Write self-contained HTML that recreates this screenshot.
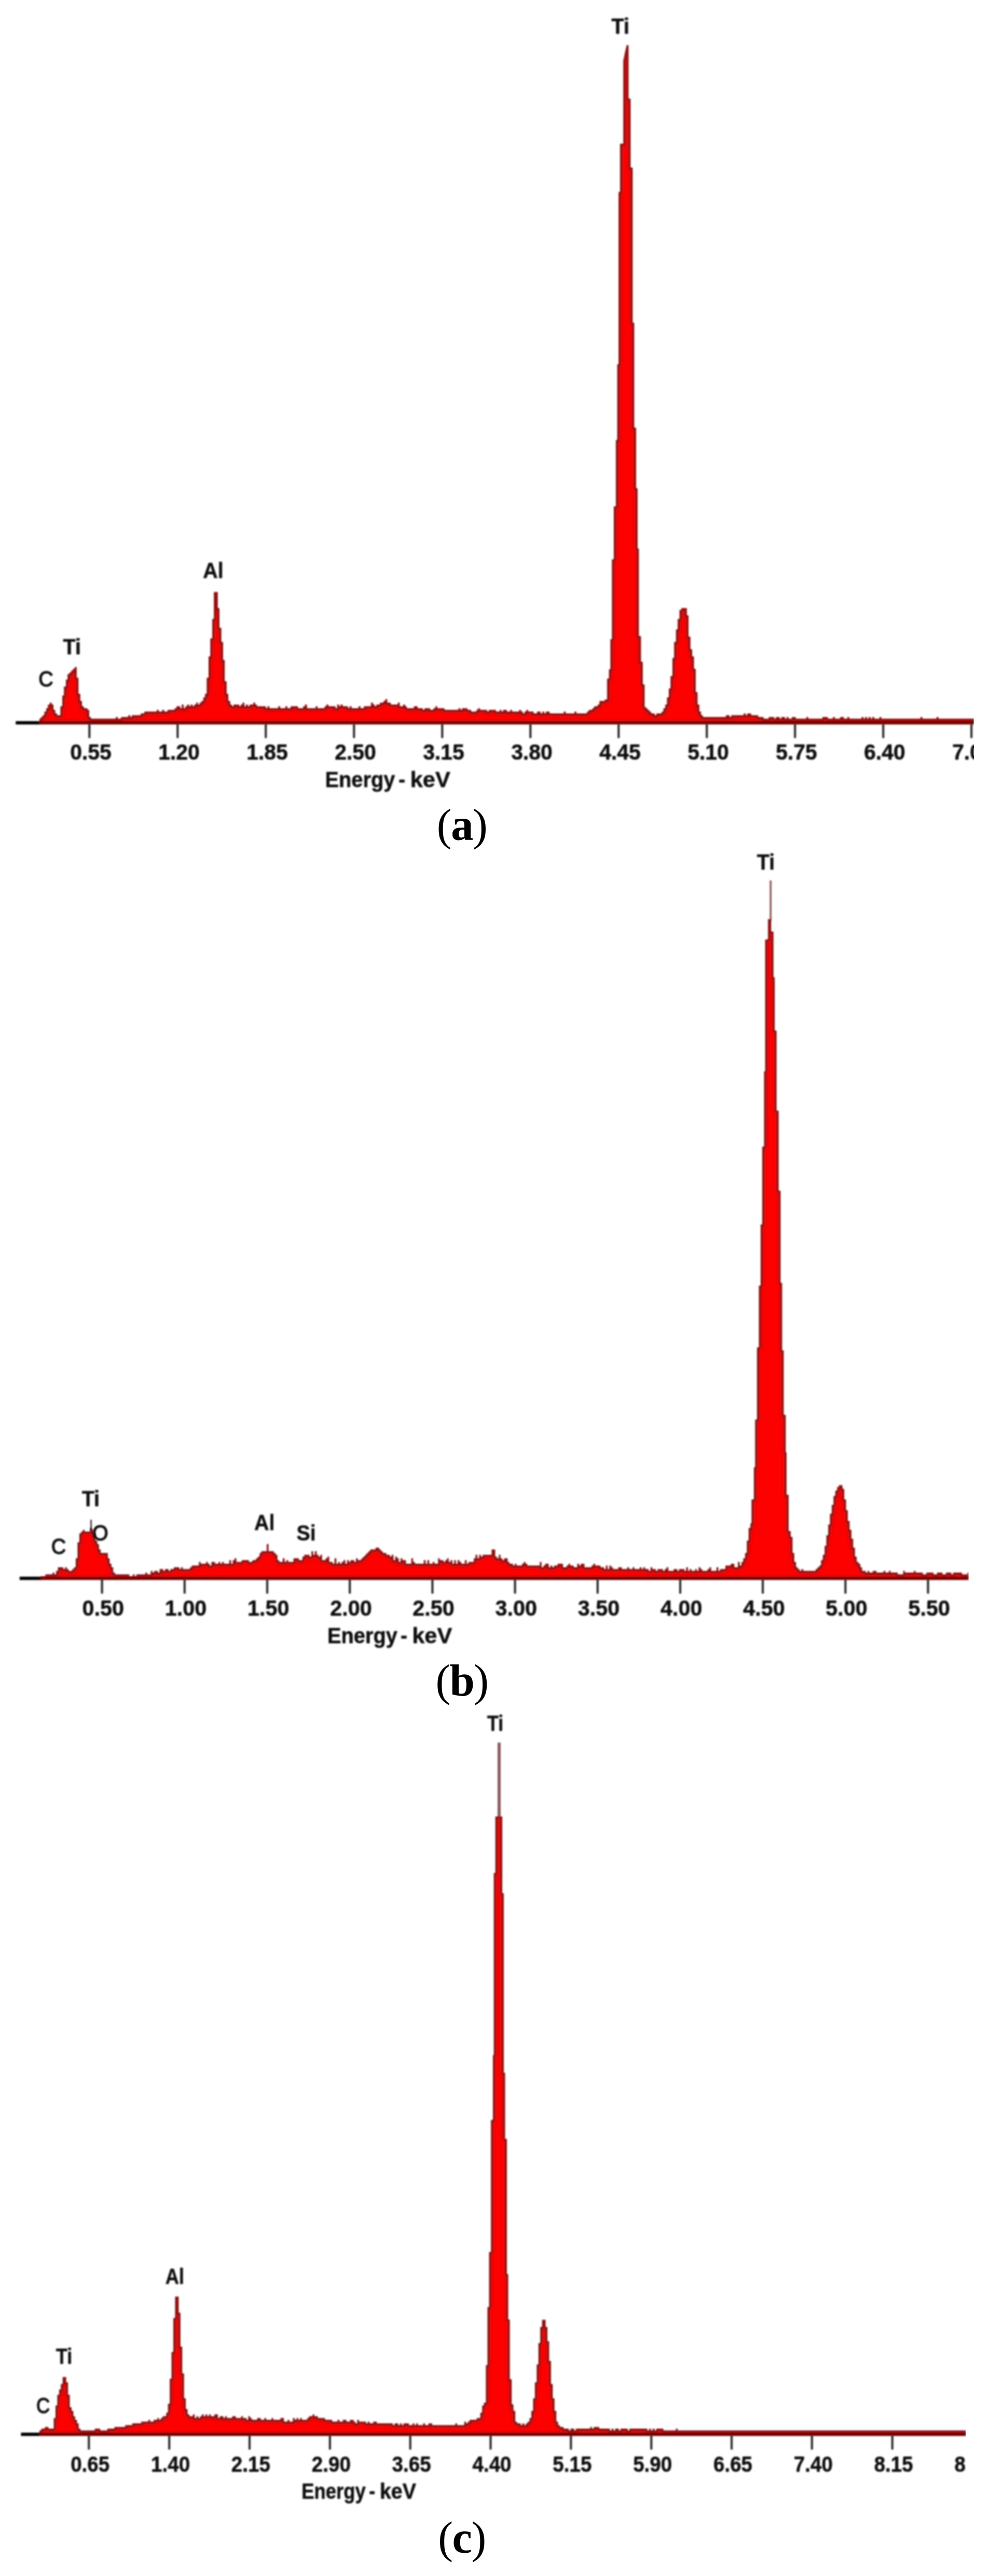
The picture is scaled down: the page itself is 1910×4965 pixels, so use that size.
<!DOCTYPE html>
<html><head><meta charset="utf-8"><title>EDS spectra</title>
<style>html,body{margin:0;padding:0;background:#fff}body{width:1910px;height:4965px;overflow:hidden;font-family:"Liberation Sans",sans-serif}svg{display:block}</style></head>
<body>
<svg width="1910" height="4965" viewBox="0 0 1910 4965">
<defs><filter id="bl" x="0" y="0" width="1910" height="4965" filterUnits="userSpaceOnUse"><feGaussianBlur stdDeviation="1.8"/></filter><filter id="bt" x="0" y="0" width="1910" height="4965" filterUnits="userSpaceOnUse"><feGaussianBlur stdDeviation="1.4"/></filter></defs>
<clipPath id="c1x"><rect x="0" y="-7" width="1877.0" height="1700"/></clipPath>
<defs><path id="c1d" d="M76.0 1394.5 L76.0 1389.0 L76.0 1385.6 L78.8 1385.6 L78.8 1382.1 L82.3 1382.1 L82.3 1378.7 L85.7 1378.7 L85.7 1371.8 L89.1 1371.8 L89.1 1364.9 L92.6 1364.9 L92.6 1358.0 L96.0 1358.0 L96.0 1354.6 L99.5 1354.6 L99.5 1358.0 L102.9 1358.0 L102.9 1368.4 L106.3 1368.4 L106.3 1375.2 L109.8 1375.2 L109.8 1378.7 L113.2 1378.7 L113.2 1378.7 L116.7 1378.7 L116.7 1361.5 L120.1 1361.5 L120.1 1340.8 L123.5 1340.8 L123.5 1323.6 L127.0 1323.6 L127.0 1309.9 L130.4 1309.9 L130.4 1299.6 L133.9 1299.6 L133.9 1296.1 L137.3 1296.1 L137.3 1292.7 L140.7 1292.7 L140.7 1289.2 L144.2 1289.2 L144.2 1285.8 L147.6 1285.8 L147.6 1306.4 L151.1 1306.4 L151.1 1337.4 L154.5 1337.4 L154.5 1351.2 L157.9 1351.2 L157.9 1361.5 L161.4 1361.5 L161.4 1364.9 L164.8 1364.9 L164.8 1364.9 L168.3 1364.9 L168.3 1368.4 L171.7 1368.4 L171.7 1382.1 L175.1 1382.1 L175.1 1385.6 L178.6 1385.6 L178.6 1385.6 L182.0 1385.6 L182.0 1385.6 L185.5 1385.6 L185.5 1385.6 L188.9 1385.6 L188.9 1385.6 L192.3 1385.6 L192.3 1385.6 L195.8 1385.6 L195.8 1385.6 L199.2 1385.6 L199.2 1385.6 L202.7 1385.6 L202.7 1385.6 L206.1 1385.6 L206.1 1385.6 L209.5 1385.6 L209.5 1385.6 L213.0 1385.6 L213.0 1385.6 L216.4 1385.6 L216.4 1385.6 L219.9 1385.6 L219.9 1385.6 L223.3 1385.6 L223.3 1382.1 L226.7 1382.1 L226.7 1385.6 L230.2 1385.6 L230.2 1385.6 L233.6 1385.6 L233.6 1382.1 L237.1 1382.1 L237.1 1382.1 L240.5 1382.1 L240.5 1382.1 L243.9 1382.1 L243.9 1382.1 L247.4 1382.1 L247.4 1378.7 L250.8 1378.7 L250.8 1382.1 L254.3 1382.1 L254.3 1378.7 L257.7 1378.7 L257.7 1378.7 L261.1 1378.7 L261.1 1378.7 L264.6 1378.7 L264.6 1378.7 L268.0 1378.7 L268.0 1378.7 L271.5 1378.7 L271.5 1375.2 L274.9 1375.2 L274.9 1375.2 L278.3 1375.2 L278.3 1371.8 L281.8 1371.8 L281.8 1371.8 L285.2 1371.8 L285.2 1371.8 L288.7 1371.8 L288.7 1371.8 L292.1 1371.8 L292.1 1371.8 L295.5 1371.8 L295.5 1371.8 L299.0 1371.8 L299.0 1371.8 L302.4 1371.8 L302.4 1368.4 L305.9 1368.4 L305.9 1371.8 L309.3 1371.8 L309.3 1371.8 L312.7 1371.8 L312.7 1368.4 L316.2 1368.4 L316.2 1371.8 L319.6 1371.8 L319.6 1371.8 L323.1 1371.8 L323.1 1368.4 L326.5 1368.4 L326.5 1368.4 L329.9 1368.4 L329.9 1368.4 L333.4 1368.4 L333.4 1368.4 L336.8 1368.4 L336.8 1364.9 L340.3 1364.9 L340.3 1361.5 L343.7 1361.5 L343.7 1361.5 L347.1 1361.5 L347.1 1364.9 L350.6 1364.9 L350.6 1358.0 L354.0 1358.0 L354.0 1364.9 L357.5 1364.9 L357.5 1361.5 L360.9 1361.5 L360.9 1358.0 L364.3 1358.0 L364.3 1361.5 L367.8 1361.5 L367.8 1358.0 L371.2 1358.0 L371.2 1361.5 L374.7 1361.5 L374.7 1358.0 L378.1 1358.0 L378.1 1354.6 L381.5 1354.6 L381.5 1358.0 L385.0 1358.0 L385.0 1354.6 L388.4 1354.6 L388.4 1351.2 L391.9 1351.2 L391.9 1344.3 L395.3 1344.3 L395.3 1337.4 L398.7 1337.4 L398.7 1306.4 L402.2 1306.4 L402.2 1265.2 L405.6 1265.2 L405.6 1230.8 L409.1 1230.8 L409.1 1192.9 L412.5 1192.9 L412.5 1141.3 L415.9 1141.3 L415.9 1141.3 L419.4 1141.3 L419.4 1172.3 L422.8 1172.3 L422.8 1210.1 L426.3 1210.1 L426.3 1237.6 L429.7 1237.6 L429.7 1272.0 L433.1 1272.0 L433.1 1313.3 L436.6 1313.3 L436.6 1337.4 L440.0 1337.4 L440.0 1351.2 L443.5 1351.2 L443.5 1358.0 L446.9 1358.0 L446.9 1361.5 L450.3 1361.5 L450.3 1358.0 L453.8 1358.0 L453.8 1358.0 L457.2 1358.0 L457.2 1358.0 L460.7 1358.0 L460.7 1361.5 L464.1 1361.5 L464.1 1358.0 L467.5 1358.0 L467.5 1354.6 L471.0 1354.6 L471.0 1361.5 L474.4 1361.5 L474.4 1358.0 L477.9 1358.0 L477.9 1361.5 L481.3 1361.5 L481.3 1358.0 L484.7 1358.0 L484.7 1358.0 L488.2 1358.0 L488.2 1354.6 L491.6 1354.6 L491.6 1358.0 L495.1 1358.0 L495.1 1361.5 L498.5 1361.5 L498.5 1361.5 L501.9 1361.5 L501.9 1361.5 L505.4 1361.5 L505.4 1361.5 L508.8 1361.5 L508.8 1361.5 L512.3 1361.5 L512.3 1364.9 L515.7 1364.9 L515.7 1361.5 L519.1 1361.5 L519.1 1364.9 L522.6 1364.9 L522.6 1364.9 L526.0 1364.9 L526.0 1364.9 L529.5 1364.9 L529.5 1364.9 L532.9 1364.9 L532.9 1364.9 L536.3 1364.9 L536.3 1361.5 L539.8 1361.5 L539.8 1364.9 L543.2 1364.9 L543.2 1364.9 L546.7 1364.9 L546.7 1364.9 L550.1 1364.9 L550.1 1361.5 L553.5 1361.5 L553.5 1364.9 L557.0 1364.9 L557.0 1364.9 L560.4 1364.9 L560.4 1361.5 L563.9 1361.5 L563.9 1361.5 L567.3 1361.5 L567.3 1361.5 L570.7 1361.5 L570.7 1361.5 L574.2 1361.5 L574.2 1364.9 L577.6 1364.9 L577.6 1364.9 L581.1 1364.9 L581.1 1364.9 L584.5 1364.9 L584.5 1361.5 L587.9 1361.5 L587.9 1358.0 L591.4 1358.0 L591.4 1364.9 L594.8 1364.9 L594.8 1364.9 L598.3 1364.9 L598.3 1364.9 L601.7 1364.9 L601.7 1364.9 L605.1 1364.9 L605.1 1364.9 L608.6 1364.9 L608.6 1361.5 L612.0 1361.5 L612.0 1364.9 L615.5 1364.9 L615.5 1364.9 L618.9 1364.9 L618.9 1364.9 L622.3 1364.9 L622.3 1364.9 L625.8 1364.9 L625.8 1361.5 L629.2 1361.5 L629.2 1358.0 L632.7 1358.0 L632.7 1361.5 L636.1 1361.5 L636.1 1361.5 L639.5 1361.5 L639.5 1361.5 L643.0 1361.5 L643.0 1361.5 L646.4 1361.5 L646.4 1364.9 L649.9 1364.9 L649.9 1358.0 L653.3 1358.0 L653.3 1361.5 L656.7 1361.5 L656.7 1358.0 L660.2 1358.0 L660.2 1361.5 L663.6 1361.5 L663.6 1361.5 L667.1 1361.5 L667.1 1361.5 L670.5 1361.5 L670.5 1364.9 L673.9 1364.9 L673.9 1361.5 L677.4 1361.5 L677.4 1364.9 L680.8 1364.9 L680.8 1364.9 L684.3 1364.9 L684.3 1364.9 L687.7 1364.9 L687.7 1364.9 L691.1 1364.9 L691.1 1361.5 L694.6 1361.5 L694.6 1364.9 L698.0 1364.9 L698.0 1364.9 L701.5 1364.9 L701.5 1361.5 L704.9 1361.5 L704.9 1361.5 L708.3 1361.5 L708.3 1361.5 L711.8 1361.5 L711.8 1361.5 L715.2 1361.5 L715.2 1354.6 L718.7 1354.6 L718.7 1358.0 L722.1 1358.0 L722.1 1361.5 L725.5 1361.5 L725.5 1358.0 L729.0 1358.0 L729.0 1358.0 L732.4 1358.0 L732.4 1354.6 L735.9 1354.6 L735.9 1354.6 L739.3 1354.6 L739.3 1351.2 L742.7 1351.2 L742.7 1347.7 L746.2 1347.7 L746.2 1354.6 L749.6 1354.6 L749.6 1354.6 L753.1 1354.6 L753.1 1358.0 L756.5 1358.0 L756.5 1358.0 L759.9 1358.0 L759.9 1358.0 L763.4 1358.0 L763.4 1358.0 L766.8 1358.0 L766.8 1354.6 L770.3 1354.6 L770.3 1361.5 L773.7 1361.5 L773.7 1361.5 L777.1 1361.5 L777.1 1358.0 L780.6 1358.0 L780.6 1361.5 L784.0 1361.5 L784.0 1364.9 L787.5 1364.9 L787.5 1364.9 L790.9 1364.9 L790.9 1364.9 L794.3 1364.9 L794.3 1364.9 L797.8 1364.9 L797.8 1361.5 L801.2 1361.5 L801.2 1361.5 L804.7 1361.5 L804.7 1364.9 L808.1 1364.9 L808.1 1364.9 L811.5 1364.9 L811.5 1364.9 L815.0 1364.9 L815.0 1368.4 L818.4 1368.4 L818.4 1364.9 L821.9 1364.9 L821.9 1364.9 L825.3 1364.9 L825.3 1364.9 L828.7 1364.9 L828.7 1368.4 L832.2 1368.4 L832.2 1368.4 L835.6 1368.4 L835.6 1364.9 L839.1 1364.9 L839.1 1361.5 L842.5 1361.5 L842.5 1364.9 L845.9 1364.9 L845.9 1364.9 L849.4 1364.9 L849.4 1364.9 L852.8 1364.9 L852.8 1364.9 L856.3 1364.9 L856.3 1368.4 L859.7 1368.4 L859.7 1368.4 L863.1 1368.4 L863.1 1368.4 L866.6 1368.4 L866.6 1368.4 L870.0 1368.4 L870.0 1368.4 L873.5 1368.4 L873.5 1368.4 L876.9 1368.4 L876.9 1368.4 L880.3 1368.4 L880.3 1368.4 L883.8 1368.4 L883.8 1364.9 L887.2 1364.9 L887.2 1368.4 L890.7 1368.4 L890.7 1364.9 L894.1 1364.9 L894.1 1364.9 L897.5 1364.9 L897.5 1364.9 L901.0 1364.9 L901.0 1368.4 L904.4 1368.4 L904.4 1368.4 L907.9 1368.4 L907.9 1371.8 L911.3 1371.8 L911.3 1371.8 L914.7 1371.8 L914.7 1371.8 L918.2 1371.8 L918.2 1368.4 L921.6 1368.4 L921.6 1364.9 L925.1 1364.9 L925.1 1368.4 L928.5 1368.4 L928.5 1368.4 L931.9 1368.4 L931.9 1368.4 L935.4 1368.4 L935.4 1368.4 L938.8 1368.4 L938.8 1371.8 L942.3 1371.8 L942.3 1368.4 L945.7 1368.4 L945.7 1368.4 L949.1 1368.4 L949.1 1368.4 L952.6 1368.4 L952.6 1368.4 L956.0 1368.4 L956.0 1371.8 L959.5 1371.8 L959.5 1371.8 L962.9 1371.8 L962.9 1368.4 L966.3 1368.4 L966.3 1371.8 L969.8 1371.8 L969.8 1368.4 L973.2 1368.4 L973.2 1368.4 L976.7 1368.4 L976.7 1371.8 L980.1 1371.8 L980.1 1371.8 L983.5 1371.8 L983.5 1368.4 L987.0 1368.4 L987.0 1371.8 L990.4 1371.8 L990.4 1371.8 L993.9 1371.8 L993.9 1371.8 L997.3 1371.8 L997.3 1371.8 L1000.7 1371.8 L1000.7 1368.4 L1004.2 1368.4 L1004.2 1371.8 L1007.6 1371.8 L1007.6 1375.2 L1011.1 1375.2 L1011.1 1371.8 L1014.5 1371.8 L1014.5 1368.4 L1017.9 1368.4 L1017.9 1371.8 L1021.4 1371.8 L1021.4 1371.8 L1024.8 1371.8 L1024.8 1371.8 L1028.3 1371.8 L1028.3 1375.2 L1031.7 1375.2 L1031.7 1375.2 L1035.1 1375.2 L1035.1 1371.8 L1038.6 1371.8 L1038.6 1371.8 L1042.0 1371.8 L1042.0 1375.2 L1045.5 1375.2 L1045.5 1371.8 L1048.9 1371.8 L1048.9 1375.2 L1052.3 1375.2 L1052.3 1371.8 L1055.8 1371.8 L1055.8 1371.8 L1059.2 1371.8 L1059.2 1375.2 L1062.7 1375.2 L1062.7 1375.2 L1066.1 1375.2 L1066.1 1375.2 L1069.5 1375.2 L1069.5 1375.2 L1073.0 1375.2 L1073.0 1375.2 L1076.4 1375.2 L1076.4 1375.2 L1079.9 1375.2 L1079.9 1375.2 L1083.3 1375.2 L1083.3 1375.2 L1086.7 1375.2 L1086.7 1371.8 L1090.2 1371.8 L1090.2 1375.2 L1093.6 1375.2 L1093.6 1375.2 L1097.1 1375.2 L1097.1 1375.2 L1100.5 1375.2 L1100.5 1375.2 L1103.9 1375.2 L1103.9 1375.2 L1107.4 1375.2 L1107.4 1371.8 L1110.8 1371.8 L1110.8 1375.2 L1114.3 1375.2 L1114.3 1375.2 L1117.7 1375.2 L1117.7 1375.2 L1121.1 1375.2 L1121.1 1375.2 L1124.6 1375.2 L1124.6 1375.2 L1128.0 1375.2 L1128.0 1375.2 L1131.5 1375.2 L1131.5 1371.8 L1134.9 1371.8 L1134.9 1368.4 L1138.3 1368.4 L1138.3 1368.4 L1141.8 1368.4 L1141.8 1364.9 L1145.2 1364.9 L1145.2 1361.5 L1148.7 1361.5 L1148.7 1361.5 L1152.1 1361.5 L1152.1 1358.0 L1155.5 1358.0 L1155.5 1351.2 L1159.0 1351.2 L1159.0 1351.2 L1162.4 1351.2 L1162.4 1351.2 L1165.9 1351.2 L1165.9 1347.7 L1167.0 1347.7 L1167.0 1348.5 L1170.3 1348.5 L1170.3 1308.0 L1173.8 1308.0 L1173.8 1290.0 L1176.7 1290.0 L1176.7 1232.0 L1179.6 1232.0 L1179.6 1078.0 L1183.0 1078.0 L1183.0 976.0 L1187.0 976.0 L1187.0 848.0 L1189.8 848.0 L1189.8 702.0 L1192.5 702.0 L1192.5 370.0 L1195.0 370.0 L1195.0 277.0 L1201.5 277.0 L1201.5 117.0 L1205.0 100.0 L1208.0 87.0 L1211.2 87.0 L1211.2 87.0 L1211.2 190.0 L1215.2 190.0 L1215.2 323.0 L1219.2 323.0 L1219.2 622.0 L1222.2 622.0 L1222.2 824.6 L1225.8 824.6 L1225.8 941.0 L1228.7 941.0 L1228.7 1057.5 L1231.2 1057.5 L1231.2 1226.0 L1235.2 1226.0 L1235.2 1275.7 L1238.6 1275.7 L1238.6 1319.0 L1242.2 1319.0 L1242.2 1363.0 L1244.0 1363.0 L1244.0 1361.5 L1244.4 1361.5 L1244.4 1364.9 L1247.9 1364.9 L1247.9 1368.4 L1251.3 1368.4 L1251.3 1371.8 L1254.8 1371.8 L1254.8 1375.2 L1258.2 1375.2 L1258.2 1375.2 L1261.6 1375.2 L1261.6 1378.7 L1265.1 1378.7 L1265.1 1375.2 L1268.5 1375.2 L1268.5 1375.2 L1272.0 1375.2 L1272.0 1375.2 L1275.4 1375.2 L1275.4 1371.8 L1278.8 1371.8 L1278.8 1364.9 L1282.3 1364.9 L1282.3 1358.0 L1285.7 1358.0 L1285.7 1344.3 L1289.2 1344.3 L1289.2 1327.1 L1292.6 1327.1 L1292.6 1303.0 L1296.0 1303.0 L1296.0 1268.6 L1299.5 1268.6 L1299.5 1237.6 L1302.9 1237.6 L1302.9 1213.6 L1306.4 1213.6 L1306.4 1192.9 L1309.8 1192.9 L1309.8 1175.7 L1313.2 1175.7 L1313.2 1172.3 L1316.7 1172.3 L1316.7 1172.3 L1320.1 1172.3 L1320.1 1172.3 L1323.6 1172.3 L1323.6 1186.0 L1327.0 1186.0 L1327.0 1227.3 L1330.4 1227.3 L1330.4 1251.4 L1333.9 1251.4 L1333.9 1265.2 L1337.3 1265.2 L1337.3 1289.2 L1340.8 1289.2 L1340.8 1334.0 L1344.2 1334.0 L1344.2 1358.0 L1347.6 1358.0 L1347.6 1371.8 L1351.1 1371.8 L1351.1 1378.7 L1354.5 1378.7 L1354.5 1382.1 L1358.0 1382.1 L1358.0 1382.1 L1361.4 1382.1 L1361.4 1382.1 L1364.8 1382.1 L1364.8 1382.1 L1368.3 1382.1 L1368.3 1382.1 L1371.7 1382.1 L1371.7 1382.1 L1375.2 1382.1 L1375.2 1382.1 L1378.6 1382.1 L1378.6 1382.1 L1382.0 1382.1 L1382.0 1382.1 L1385.5 1382.1 L1385.5 1382.1 L1388.9 1382.1 L1388.9 1382.1 L1392.4 1382.1 L1392.4 1382.1 L1395.8 1382.1 L1395.8 1382.1 L1399.2 1382.1 L1399.2 1378.7 L1402.7 1378.7 L1402.7 1378.7 L1406.1 1378.7 L1406.1 1382.1 L1409.6 1382.1 L1409.6 1378.7 L1413.0 1378.7 L1413.0 1378.7 L1416.4 1378.7 L1416.4 1378.7 L1419.9 1378.7 L1419.9 1378.7 L1423.3 1378.7 L1423.3 1378.7 L1426.8 1378.7 L1426.8 1378.7 L1430.2 1378.7 L1430.2 1378.7 L1433.6 1378.7 L1433.6 1375.2 L1437.1 1375.2 L1437.1 1378.7 L1440.5 1378.7 L1440.5 1375.2 L1444.0 1375.2 L1444.0 1375.2 L1447.4 1375.2 L1447.4 1378.7 L1450.8 1378.7 L1450.8 1378.7 L1454.3 1378.7 L1454.3 1378.7 L1457.7 1378.7 L1457.7 1378.7 L1461.2 1378.7 L1461.2 1382.1 L1464.6 1382.1 L1464.6 1382.1 L1468.0 1382.1 L1468.0 1382.1 L1471.5 1382.1 L1471.5 1385.6 L1474.9 1385.6 L1474.9 1385.6 L1478.4 1385.6 L1478.4 1385.6 L1481.8 1385.6 L1481.8 1382.1 L1485.2 1382.1 L1485.2 1382.1 L1488.7 1382.1 L1488.7 1382.1 L1492.1 1382.1 L1492.1 1385.6 L1495.6 1385.6 L1495.6 1382.1 L1499.0 1382.1 L1499.0 1382.1 L1502.4 1382.1 L1502.4 1385.6 L1505.9 1385.6 L1505.9 1382.1 L1509.3 1382.1 L1509.3 1382.1 L1512.8 1382.1 L1512.8 1385.6 L1516.2 1385.6 L1516.2 1382.1 L1519.6 1382.1 L1519.6 1385.6 L1523.1 1385.6 L1523.1 1385.6 L1526.5 1385.6 L1526.5 1382.1 L1530.0 1382.1 L1530.0 1382.1 L1533.4 1382.1 L1533.4 1385.6 L1536.8 1385.6 L1536.8 1385.6 L1540.3 1385.6 L1540.3 1385.6 L1543.7 1385.6 L1543.7 1385.6 L1547.2 1385.6 L1547.2 1385.6 L1550.6 1385.6 L1550.6 1385.6 L1554.0 1385.6 L1554.0 1382.1 L1557.5 1382.1 L1557.5 1385.6 L1560.9 1385.6 L1560.9 1385.6 L1564.4 1385.6 L1564.4 1385.6 L1567.8 1385.6 L1567.8 1385.6 L1571.2 1385.6 L1571.2 1385.6 L1574.7 1385.6 L1574.7 1385.6 L1578.1 1385.6 L1578.1 1385.6 L1581.6 1385.6 L1581.6 1385.6 L1585.0 1385.6 L1585.0 1382.1 L1588.4 1382.1 L1588.4 1382.1 L1591.9 1382.1 L1591.9 1382.1 L1595.3 1382.1 L1595.3 1385.6 L1598.8 1385.6 L1598.8 1385.6 L1602.2 1385.6 L1602.2 1385.6 L1605.6 1385.6 L1605.6 1382.1 L1609.1 1382.1 L1609.1 1385.6 L1612.5 1385.6 L1612.5 1385.6 L1616.0 1385.6 L1616.0 1385.6 L1619.4 1385.6 L1619.4 1382.1 L1622.8 1382.1 L1622.8 1382.1 L1626.3 1382.1 L1626.3 1385.6 L1629.7 1385.6 L1629.7 1385.6 L1633.2 1385.6 L1633.2 1382.1 L1636.6 1382.1 L1636.6 1385.6 L1640.0 1385.6 L1640.0 1385.6 L1643.5 1385.6 L1643.5 1385.6 L1646.9 1385.6 L1646.9 1385.6 L1650.4 1385.6 L1650.4 1385.6 L1653.8 1385.6 L1653.8 1385.6 L1657.2 1385.6 L1657.2 1385.6 L1660.7 1385.6 L1660.7 1382.1 L1664.1 1382.1 L1664.1 1385.6 L1667.6 1385.6 L1667.6 1382.1 L1671.0 1382.1 L1671.0 1385.6 L1674.4 1385.6 L1674.4 1382.1 L1677.9 1382.1 L1677.9 1385.6 L1681.3 1385.6 L1681.3 1382.1 L1684.8 1382.1 L1684.8 1385.6 L1688.2 1385.6 L1688.2 1385.6 L1691.6 1385.6 L1691.6 1385.6 L1695.1 1385.6 L1695.1 1382.1 L1698.5 1382.1 L1698.5 1385.6 L1702.0 1385.6 L1702.0 1385.6 L1705.4 1385.6 L1705.4 1385.6 L1708.8 1385.6 L1708.8 1385.6 L1712.3 1385.6 L1712.3 1385.6 L1715.7 1385.6 L1715.7 1385.6 L1719.2 1385.6 L1719.2 1385.6 L1722.6 1385.6 L1722.6 1385.6 L1726.0 1385.6 L1726.0 1385.6 L1729.5 1385.6 L1729.5 1385.6 L1732.9 1385.6 L1732.9 1385.6 L1736.4 1385.6 L1736.4 1385.6 L1739.8 1385.6 L1739.8 1385.6 L1743.2 1385.6 L1743.2 1385.6 L1746.7 1385.6 L1746.7 1385.6 L1750.1 1385.6 L1750.1 1385.6 L1753.6 1385.6 L1753.6 1385.6 L1757.0 1385.6 L1757.0 1385.6 L1760.4 1385.6 L1760.4 1385.6 L1763.9 1385.6 L1763.9 1385.6 L1767.3 1385.6 L1767.3 1385.6 L1770.8 1385.6 L1770.8 1385.6 L1774.2 1385.6 L1774.2 1382.1 L1777.6 1382.1 L1777.6 1385.6 L1781.1 1385.6 L1781.1 1385.6 L1784.5 1385.6 L1784.5 1385.6 L1788.0 1385.6 L1788.0 1385.6 L1791.4 1385.6 L1791.4 1385.6 L1794.8 1385.6 L1794.8 1385.6 L1798.3 1385.6 L1798.3 1385.6 L1801.7 1385.6 L1801.7 1385.6 L1805.2 1385.6 L1805.2 1382.1 L1808.6 1382.1 L1808.6 1385.6 L1812.0 1385.6 L1812.0 1385.6 L1815.5 1385.6 L1815.5 1385.6 L1818.9 1385.6 L1818.9 1385.6 L1822.4 1385.6 L1822.4 1385.6 L1825.8 1385.6 L1825.8 1385.6 L1829.2 1385.6 L1829.2 1385.6 L1832.7 1385.6 L1832.7 1385.6 L1836.1 1385.6 L1836.1 1385.6 L1839.6 1385.6 L1839.6 1385.6 L1843.0 1385.6 L1843.0 1385.6 L1846.4 1385.6 L1846.4 1385.6 L1849.9 1385.6 L1849.9 1385.6 L1853.3 1385.6 L1853.3 1385.6 L1856.8 1385.6 L1856.8 1385.6 L1860.2 1385.6 L1860.2 1385.6 L1863.6 1385.6 L1863.6 1385.6 L1867.1 1385.6 L1867.1 1385.6 L1870.5 1385.6 L1870.5 1385.6 L1874.0 1385.6 L1874.0 1385.6 L1877.0 1385.6 L1877.0 1385.5 L1877.0 1394.5 Z"/></defs>
<clipPath id="c1p"><use href="#c1d"/></clipPath>
<g clip-path="url(#c1x)" filter="url(#bl)">
<g clip-path="url(#c1p)"><use href="#c1d" fill="#fd0303" stroke="#de090d" stroke-width="13.6" stroke-linejoin="round"/><use href="#c1d" fill="none" stroke="#8c0c10" stroke-width="7.2" stroke-linejoin="round"/></g>
<rect x="30.3" y="1389.9" width="47.7" height="6.4" fill="#050505"/>
<rect x="76.0" y="1389.9" width="1801.0" height="6.4" fill="#7a0606"/>
<rect x="170.2" y="1395.0" width="4.2" height="27.5" fill="#2e2e2e"/>
<rect x="340.2" y="1395.0" width="4.2" height="27.5" fill="#2e2e2e"/>
<rect x="510.2" y="1395.0" width="4.2" height="27.5" fill="#2e2e2e"/>
<rect x="680.2" y="1395.0" width="4.2" height="27.5" fill="#2e2e2e"/>
<rect x="850.2" y="1395.0" width="4.2" height="27.5" fill="#2e2e2e"/>
<rect x="1020.2" y="1395.0" width="4.2" height="27.5" fill="#2e2e2e"/>
<rect x="1190.2" y="1395.0" width="4.2" height="27.5" fill="#2e2e2e"/>
<rect x="1360.2" y="1395.0" width="4.2" height="27.5" fill="#2e2e2e"/>
<rect x="1530.2" y="1395.0" width="4.2" height="27.5" fill="#2e2e2e"/>
<rect x="1700.2" y="1395.0" width="4.2" height="27.5" fill="#2e2e2e"/>
<rect x="1870.2" y="1395.0" width="4.2" height="27.5" fill="#2e2e2e"/>
</g>
<g clip-path="url(#c1x)" filter="url(#bt)" font-family="Liberation Sans, sans-serif" font-weight="bold" font-size="39.4" fill="#0c0c0c" stroke="#0c0c0c" stroke-width="0.5" text-anchor="middle">
<text transform="translate(175.0 1464.0) scale(1.040 1.100)">0.55</text>
<text transform="translate(345.0 1464.0) scale(1.040 1.100)">1.20</text>
<text transform="translate(515.0 1464.0) scale(1.040 1.100)">1.85</text>
<text transform="translate(685.0 1464.0) scale(1.040 1.100)">2.50</text>
<text transform="translate(855.0 1464.0) scale(1.040 1.100)">3.15</text>
<text transform="translate(1025.0 1464.0) scale(1.040 1.100)">3.80</text>
<text transform="translate(1195.0 1464.0) scale(1.040 1.100)">4.45</text>
<text transform="translate(1365.0 1464.0) scale(1.040 1.100)">5.10</text>
<text transform="translate(1535.0 1464.0) scale(1.040 1.100)">5.75</text>
<text transform="translate(1705.0 1464.0) scale(1.040 1.100)">6.40</text>
<text transform="translate(1875.0 1464.0) scale(1.040 1.100)">7.05</text>
<text transform="translate(693.9 1517.0) scale(1.010 1.100)">Energy</text>
<text transform="translate(774.8 1517.0) scale(1.000 1.100)">-</text>
<text transform="translate(829.3 1517.0) scale(1.100 1.100)">keV</text>
<text transform="translate(1195.7 64.7) scale(1.000 1.100)">Ti</text>
<text transform="translate(411.0 1114.2) scale(1.000 1.100)">Al</text>
<text transform="translate(138.7 1261.3) scale(1.000 1.100)">Ti</text>
<text font-weight="normal" stroke-width="1.3" transform="translate(88.5 1322.8) scale(1.000 1.100)">C</text>
</g>
<clipPath id="c2x"><rect x="0" y="1641" width="1866.6" height="1700"/></clipPath>
<defs><path id="c2d" d="M78.0 3043.5 L78.0 3038.0 L78.0 3038.0 L80.6 3038.0 L80.6 3038.0 L84.1 3038.0 L84.1 3038.0 L87.5 3038.0 L87.5 3034.6 L90.9 3034.6 L90.9 3034.6 L94.4 3034.6 L94.4 3034.6 L97.8 3034.6 L97.8 3034.6 L101.3 3034.6 L101.3 3031.1 L104.7 3031.1 L104.7 3034.6 L108.1 3034.6 L108.1 3027.7 L111.6 3027.7 L111.6 3020.8 L115.0 3020.8 L115.0 3020.8 L118.5 3020.8 L118.5 3020.8 L121.9 3020.8 L121.9 3024.2 L125.3 3024.2 L125.3 3020.8 L128.8 3020.8 L128.8 3024.2 L132.2 3024.2 L132.2 3027.7 L135.7 3027.7 L135.7 3027.7 L139.1 3027.7 L139.1 3024.2 L142.5 3024.2 L142.5 3020.8 L146.0 3020.8 L146.0 3003.6 L149.4 3003.6 L149.4 2972.6 L152.9 2972.6 L152.9 2955.4 L156.3 2955.4 L156.3 2952.0 L159.7 2952.0 L159.7 2948.6 L163.2 2948.6 L163.2 2952.0 L166.6 2952.0 L166.6 2952.0 L170.1 2952.0 L170.1 2952.0 L173.5 2952.0 L173.5 2945.1 L176.9 2945.1 L176.9 2948.6 L180.4 2948.6 L180.4 2955.4 L183.8 2955.4 L183.8 2969.2 L187.3 2969.2 L187.3 2976.1 L190.7 2976.1 L190.7 2986.4 L194.1 2986.4 L194.1 2993.3 L197.6 2993.3 L197.6 2993.3 L201.0 2993.3 L201.0 2993.3 L204.5 2993.3 L204.5 2993.3 L207.9 2993.3 L207.9 3003.6 L211.3 3003.6 L211.3 3013.9 L214.8 3013.9 L214.8 3020.8 L218.2 3020.8 L218.2 3031.1 L221.7 3031.1 L221.7 3034.6 L225.1 3034.6 L225.1 3034.6 L228.5 3034.6 L228.5 3034.6 L232.0 3034.6 L232.0 3034.6 L235.4 3034.6 L235.4 3034.6 L238.9 3034.6 L238.9 3034.6 L242.3 3034.6 L242.3 3034.6 L245.7 3034.6 L245.7 3034.6 L249.2 3034.6 L249.2 3038.0 L252.6 3038.0 L252.6 3038.0 L256.1 3038.0 L256.1 3034.6 L259.5 3034.6 L259.5 3038.0 L262.9 3038.0 L262.9 3034.6 L266.4 3034.6 L266.4 3034.6 L269.8 3034.6 L269.8 3034.6 L273.3 3034.6 L273.3 3034.6 L276.7 3034.6 L276.7 3034.6 L280.1 3034.6 L280.1 3031.1 L283.6 3031.1 L283.6 3034.6 L287.0 3034.6 L287.0 3034.6 L290.5 3034.6 L290.5 3027.7 L293.9 3027.7 L293.9 3031.1 L297.3 3031.1 L297.3 3027.7 L300.8 3027.7 L300.8 3027.7 L304.2 3027.7 L304.2 3031.1 L307.7 3031.1 L307.7 3024.2 L311.1 3024.2 L311.1 3024.2 L314.5 3024.2 L314.5 3027.7 L318.0 3027.7 L318.0 3024.2 L321.4 3024.2 L321.4 3024.2 L324.9 3024.2 L324.9 3027.7 L328.3 3027.7 L328.3 3024.2 L331.7 3024.2 L331.7 3024.2 L335.2 3024.2 L335.2 3020.8 L338.6 3020.8 L338.6 3020.8 L342.1 3020.8 L342.1 3020.8 L345.5 3020.8 L345.5 3024.2 L348.9 3024.2 L348.9 3020.8 L352.4 3020.8 L352.4 3024.2 L355.8 3024.2 L355.8 3024.2 L359.3 3024.2 L359.3 3024.2 L362.7 3024.2 L362.7 3024.2 L366.1 3024.2 L366.1 3020.8 L369.6 3020.8 L369.6 3017.4 L373.0 3017.4 L373.0 3017.4 L376.5 3017.4 L376.5 3017.4 L379.9 3017.4 L379.9 3017.4 L383.3 3017.4 L383.3 3010.5 L386.8 3010.5 L386.8 3013.9 L390.2 3013.9 L390.2 3013.9 L393.7 3013.9 L393.7 3013.9 L397.1 3013.9 L397.1 3010.5 L400.5 3010.5 L400.5 3013.9 L404.0 3013.9 L404.0 3017.4 L407.4 3017.4 L407.4 3010.5 L410.9 3010.5 L410.9 3010.5 L414.3 3010.5 L414.3 3013.9 L417.7 3013.9 L417.7 3013.9 L421.2 3013.9 L421.2 3010.5 L424.6 3010.5 L424.6 3013.9 L428.1 3013.9 L428.1 3010.5 L431.5 3010.5 L431.5 3013.9 L434.9 3013.9 L434.9 3013.9 L438.4 3013.9 L438.4 3013.9 L441.8 3013.9 L441.8 3007.0 L445.3 3007.0 L445.3 3013.9 L448.7 3013.9 L448.7 3007.0 L452.1 3007.0 L452.1 3003.6 L455.6 3003.6 L455.6 3010.5 L459.0 3010.5 L459.0 3010.5 L462.5 3010.5 L462.5 3010.5 L465.9 3010.5 L465.9 3007.0 L469.3 3007.0 L469.3 3007.0 L472.8 3007.0 L472.8 3007.0 L476.2 3007.0 L476.2 3007.0 L479.7 3007.0 L479.7 3010.5 L483.1 3010.5 L483.1 3010.5 L486.5 3010.5 L486.5 3007.0 L490.0 3007.0 L490.0 3007.0 L493.4 3007.0 L493.4 3003.6 L496.9 3003.6 L496.9 3000.2 L500.3 3000.2 L500.3 2993.3 L503.7 2993.3 L503.7 2989.8 L507.2 2989.8 L507.2 2989.8 L510.6 2989.8 L510.6 2989.8 L514.1 2989.8 L514.1 2976.1 L517.5 2976.1 L517.5 2989.8 L520.9 2989.8 L520.9 2989.8 L524.4 2989.8 L524.4 2989.8 L527.8 2989.8 L527.8 2993.3 L531.3 2993.3 L531.3 2996.7 L534.7 2996.7 L534.7 3007.0 L538.1 3007.0 L538.1 3010.5 L541.6 3010.5 L541.6 3010.5 L545.0 3010.5 L545.0 3003.6 L548.5 3003.6 L548.5 3010.5 L551.9 3010.5 L551.9 3007.0 L555.3 3007.0 L555.3 3010.5 L558.8 3010.5 L558.8 3010.5 L562.2 3010.5 L562.2 3010.5 L565.7 3010.5 L565.7 3003.6 L569.1 3003.6 L569.1 3003.6 L572.5 3003.6 L572.5 3003.6 L576.0 3003.6 L576.0 3007.0 L579.4 3007.0 L579.4 3007.0 L582.9 3007.0 L582.9 3000.2 L586.3 3000.2 L586.3 2996.7 L589.7 2996.7 L589.7 2996.7 L593.2 2996.7 L593.2 2996.7 L596.6 2996.7 L596.6 3000.2 L600.1 3000.2 L600.1 2989.8 L603.5 2989.8 L603.5 2996.7 L606.9 2996.7 L606.9 2989.8 L610.4 2989.8 L610.4 2996.7 L613.8 2996.7 L613.8 3000.2 L617.3 3000.2 L617.3 2996.7 L620.7 2996.7 L620.7 3007.0 L624.1 3007.0 L624.1 3007.0 L627.6 3007.0 L627.6 3003.6 L631.0 3003.6 L631.0 3000.2 L634.5 3000.2 L634.5 3010.5 L637.9 3010.5 L637.9 3010.5 L641.3 3010.5 L641.3 3013.9 L644.8 3013.9 L644.8 3003.6 L648.2 3003.6 L648.2 3013.9 L651.7 3013.9 L651.7 3010.5 L655.1 3010.5 L655.1 3013.9 L658.5 3013.9 L658.5 3010.5 L662.0 3010.5 L662.0 3007.0 L665.4 3007.0 L665.4 3013.9 L668.9 3013.9 L668.9 3007.0 L672.3 3007.0 L672.3 3010.5 L675.7 3010.5 L675.7 3007.0 L679.2 3007.0 L679.2 3007.0 L682.6 3007.0 L682.6 3010.5 L686.1 3010.5 L686.1 3003.6 L689.5 3003.6 L689.5 3007.0 L692.9 3007.0 L692.9 3007.0 L696.4 3007.0 L696.4 3003.6 L699.8 3003.6 L699.8 3000.2 L703.3 3000.2 L703.3 2996.7 L706.7 2996.7 L706.7 2993.3 L710.1 2993.3 L710.1 2989.8 L713.6 2989.8 L713.6 2986.4 L717.0 2986.4 L717.0 2986.4 L720.5 2986.4 L720.5 2986.4 L723.9 2986.4 L723.9 2983.0 L727.3 2983.0 L727.3 2983.0 L730.8 2983.0 L730.8 2986.4 L734.2 2986.4 L734.2 2989.8 L737.7 2989.8 L737.7 2993.3 L741.1 2993.3 L741.1 2993.3 L744.5 2993.3 L744.5 2996.7 L748.0 2996.7 L748.0 2996.7 L751.4 2996.7 L751.4 3000.2 L754.9 3000.2 L754.9 2996.7 L758.3 2996.7 L758.3 3007.0 L761.7 3007.0 L761.7 3000.2 L765.2 3000.2 L765.2 3003.6 L768.6 3003.6 L768.6 3010.5 L772.1 3010.5 L772.1 3003.6 L775.5 3003.6 L775.5 3007.0 L778.9 3007.0 L778.9 3007.0 L782.4 3007.0 L782.4 3013.9 L785.8 3013.9 L785.8 3013.9 L789.3 3013.9 L789.3 3013.9 L792.7 3013.9 L792.7 3003.6 L796.1 3003.6 L796.1 3010.5 L799.6 3010.5 L799.6 3013.9 L803.0 3013.9 L803.0 3013.9 L806.5 3013.9 L806.5 3013.9 L809.9 3013.9 L809.9 3013.9 L813.3 3013.9 L813.3 3013.9 L816.8 3013.9 L816.8 3007.0 L820.2 3007.0 L820.2 3013.9 L823.7 3013.9 L823.7 3007.0 L827.1 3007.0 L827.1 3013.9 L830.5 3013.9 L830.5 3013.9 L834.0 3013.9 L834.0 3010.5 L837.4 3010.5 L837.4 3013.9 L840.9 3013.9 L840.9 3013.9 L844.3 3013.9 L844.3 3003.6 L847.7 3003.6 L847.7 3007.0 L851.2 3007.0 L851.2 3007.0 L854.6 3007.0 L854.6 3010.5 L858.1 3010.5 L858.1 3007.0 L861.5 3007.0 L861.5 3003.6 L864.9 3003.6 L864.9 3010.5 L868.4 3010.5 L868.4 3007.0 L871.8 3007.0 L871.8 3013.9 L875.3 3013.9 L875.3 3007.0 L878.7 3007.0 L878.7 3013.9 L882.1 3013.9 L882.1 3007.0 L885.6 3007.0 L885.6 3010.5 L889.0 3010.5 L889.0 3013.9 L892.5 3013.9 L892.5 3013.9 L895.9 3013.9 L895.9 3007.0 L899.3 3007.0 L899.3 3013.9 L902.8 3013.9 L902.8 3010.5 L906.2 3010.5 L906.2 3010.5 L909.7 3010.5 L909.7 3010.5 L913.1 3010.5 L913.1 3003.6 L916.5 3003.6 L916.5 2996.7 L920.0 2996.7 L920.0 3003.6 L923.4 3003.6 L923.4 2996.7 L926.9 2996.7 L926.9 3000.2 L930.3 3000.2 L930.3 2996.7 L933.7 2996.7 L933.7 2996.7 L937.2 2996.7 L937.2 2996.7 L940.6 2996.7 L940.6 2996.7 L944.1 2996.7 L944.1 2996.7 L947.5 2996.7 L947.5 2986.4 L950.9 2986.4 L950.9 2986.4 L954.4 2986.4 L954.4 3000.2 L957.8 3000.2 L957.8 3003.6 L961.3 3003.6 L961.3 2996.7 L964.7 2996.7 L964.7 3003.6 L968.1 3003.6 L968.1 3007.0 L971.6 3007.0 L971.6 3003.6 L975.0 3003.6 L975.0 3003.6 L978.5 3003.6 L978.5 3010.5 L981.9 3010.5 L981.9 3013.9 L985.3 3013.9 L985.3 3013.9 L988.8 3013.9 L988.8 3017.4 L992.2 3017.4 L992.2 3013.9 L995.7 3013.9 L995.7 3017.4 L999.1 3017.4 L999.1 3017.4 L1002.5 3017.4 L1002.5 3017.4 L1006.0 3017.4 L1006.0 3013.9 L1009.4 3013.9 L1009.4 3010.5 L1012.9 3010.5 L1012.9 3013.9 L1016.3 3013.9 L1016.3 3017.4 L1019.7 3017.4 L1019.7 3017.4 L1023.2 3017.4 L1023.2 3017.4 L1026.6 3017.4 L1026.6 3017.4 L1030.1 3017.4 L1030.1 3017.4 L1033.5 3017.4 L1033.5 3017.4 L1036.9 3017.4 L1036.9 3017.4 L1040.4 3017.4 L1040.4 3010.5 L1043.8 3010.5 L1043.8 3020.8 L1047.3 3020.8 L1047.3 3017.4 L1050.7 3017.4 L1050.7 3013.9 L1054.1 3013.9 L1054.1 3013.9 L1057.6 3013.9 L1057.6 3020.8 L1061.0 3020.8 L1061.0 3017.4 L1064.5 3017.4 L1064.5 3020.8 L1067.9 3020.8 L1067.9 3017.4 L1071.3 3017.4 L1071.3 3017.4 L1074.8 3017.4 L1074.8 3013.9 L1078.2 3013.9 L1078.2 3013.9 L1081.7 3013.9 L1081.7 3013.9 L1085.1 3013.9 L1085.1 3020.8 L1088.5 3020.8 L1088.5 3020.8 L1092.0 3020.8 L1092.0 3017.4 L1095.4 3017.4 L1095.4 3013.9 L1098.9 3013.9 L1098.9 3017.4 L1102.3 3017.4 L1102.3 3017.4 L1105.7 3017.4 L1105.7 3020.8 L1109.2 3020.8 L1109.2 3020.8 L1112.6 3020.8 L1112.6 3013.9 L1116.1 3013.9 L1116.1 3017.4 L1119.5 3017.4 L1119.5 3013.9 L1122.9 3013.9 L1122.9 3013.9 L1126.4 3013.9 L1126.4 3020.8 L1129.8 3020.8 L1129.8 3020.8 L1133.3 3020.8 L1133.3 3020.8 L1136.7 3020.8 L1136.7 3020.8 L1140.1 3020.8 L1140.1 3017.4 L1143.6 3017.4 L1143.6 3013.9 L1147.0 3013.9 L1147.0 3017.4 L1150.5 3017.4 L1150.5 3017.4 L1153.9 3017.4 L1153.9 3017.4 L1157.3 3017.4 L1157.3 3020.8 L1160.8 3020.8 L1160.8 3020.8 L1164.2 3020.8 L1164.2 3024.2 L1167.7 3024.2 L1167.7 3017.4 L1171.1 3017.4 L1171.1 3024.2 L1174.5 3024.2 L1174.5 3017.4 L1178.0 3017.4 L1178.0 3020.8 L1181.4 3020.8 L1181.4 3024.2 L1184.9 3024.2 L1184.9 3024.2 L1188.3 3024.2 L1188.3 3024.2 L1191.7 3024.2 L1191.7 3020.8 L1195.2 3020.8 L1195.2 3020.8 L1198.6 3020.8 L1198.6 3024.2 L1202.1 3024.2 L1202.1 3024.2 L1205.5 3024.2 L1205.5 3024.2 L1208.9 3024.2 L1208.9 3020.8 L1212.4 3020.8 L1212.4 3024.2 L1215.8 3024.2 L1215.8 3024.2 L1219.3 3024.2 L1219.3 3020.8 L1222.7 3020.8 L1222.7 3024.2 L1226.1 3024.2 L1226.1 3024.2 L1229.6 3024.2 L1229.6 3024.2 L1233.0 3024.2 L1233.0 3020.8 L1236.5 3020.8 L1236.5 3024.2 L1239.9 3024.2 L1239.9 3020.8 L1243.3 3020.8 L1243.3 3024.2 L1246.8 3024.2 L1246.8 3024.2 L1250.2 3024.2 L1250.2 3027.7 L1253.7 3027.7 L1253.7 3020.8 L1257.1 3020.8 L1257.1 3024.2 L1260.5 3024.2 L1260.5 3024.2 L1264.0 3024.2 L1264.0 3027.7 L1267.4 3027.7 L1267.4 3024.2 L1270.9 3024.2 L1270.9 3024.2 L1274.3 3024.2 L1274.3 3024.2 L1277.7 3024.2 L1277.7 3027.7 L1281.2 3027.7 L1281.2 3024.2 L1284.6 3024.2 L1284.6 3020.8 L1288.1 3020.8 L1288.1 3027.7 L1291.5 3027.7 L1291.5 3027.7 L1294.9 3027.7 L1294.9 3027.7 L1298.4 3027.7 L1298.4 3024.2 L1301.8 3024.2 L1301.8 3024.2 L1305.3 3024.2 L1305.3 3027.7 L1308.7 3027.7 L1308.7 3024.2 L1312.1 3024.2 L1312.1 3024.2 L1315.6 3024.2 L1315.6 3024.2 L1319.0 3024.2 L1319.0 3027.7 L1322.5 3027.7 L1322.5 3020.8 L1325.9 3020.8 L1325.9 3027.7 L1329.3 3027.7 L1329.3 3024.2 L1332.8 3024.2 L1332.8 3027.7 L1336.2 3027.7 L1336.2 3027.7 L1339.7 3027.7 L1339.7 3024.2 L1343.1 3024.2 L1343.1 3027.7 L1346.5 3027.7 L1346.5 3020.8 L1350.0 3020.8 L1350.0 3024.2 L1353.4 3024.2 L1353.4 3027.7 L1356.9 3027.7 L1356.9 3027.7 L1360.3 3027.7 L1360.3 3027.7 L1363.7 3027.7 L1363.7 3024.2 L1367.2 3024.2 L1367.2 3020.8 L1370.6 3020.8 L1370.6 3027.7 L1374.1 3027.7 L1374.1 3027.7 L1377.5 3027.7 L1377.5 3027.7 L1380.9 3027.7 L1380.9 3020.8 L1384.4 3020.8 L1384.4 3027.7 L1387.8 3027.7 L1387.8 3024.2 L1391.3 3024.2 L1391.3 3024.2 L1394.7 3024.2 L1394.7 3024.2 L1398.1 3024.2 L1398.1 3017.4 L1401.6 3017.4 L1401.6 3017.4 L1405.0 3017.4 L1405.0 3017.4 L1408.5 3017.4 L1408.5 3013.9 L1411.9 3013.9 L1411.9 3013.9 L1415.3 3013.9 L1415.3 3020.8 L1418.8 3020.8 L1418.8 3020.8 L1422.2 3020.8 L1422.2 3010.5 L1425.7 3010.5 L1425.7 3017.4 L1429.1 3017.4 L1429.1 3010.5 L1432.5 3010.5 L1432.5 3003.6 L1436.0 3003.6 L1436.0 2993.3 L1439.4 2993.3 L1439.4 2969.2 L1442.9 2969.2 L1442.9 2945.1 L1446.3 2945.1 L1446.3 2936.0 L1448.4 2936.0 L1448.4 2890.0 L1453.0 2890.0 L1453.0 2828.0 L1455.4 2828.0 L1455.4 2736.0 L1459.0 2736.0 L1459.0 2597.0 L1462.6 2597.0 L1462.6 2478.0 L1466.0 2478.0 L1466.0 2360.0 L1469.0 2360.0 L1469.0 2210.0 L1472.6 2210.0 L1472.6 2065.0 L1474.7 2065.0 L1474.7 1810.7 L1480.2 1810.7 L1480.2 1771.4 L1486.2 1771.4 L1486.2 1795.6 L1490.8 1795.6 L1490.8 1883.4 L1493.2 1883.4 L1493.2 1986.3 L1496.8 1986.3 L1496.8 2140.7 L1500.8 2140.7 L1500.8 2295.0 L1504.4 2295.0 L1504.4 2472.6 L1507.4 2472.6 L1507.4 2602.8 L1510.5 2602.8 L1510.5 2727.0 L1514.4 2727.0 L1514.4 2799.5 L1516.0 2799.5 L1516.0 2881.0 L1520.0 2881.0 L1520.0 2951.0 L1524.0 2951.0 L1524.0 2962.3 L1527.4 2962.3 L1527.4 2993.3 L1530.8 2993.3 L1530.8 3010.5 L1534.3 3010.5 L1534.3 3020.8 L1537.7 3020.8 L1537.7 3024.2 L1541.1 3024.2 L1541.1 3027.7 L1544.6 3027.7 L1544.6 3024.2 L1548.0 3024.2 L1548.0 3027.7 L1551.5 3027.7 L1551.5 3027.7 L1554.9 3027.7 L1554.9 3027.7 L1558.3 3027.7 L1558.3 3027.7 L1561.8 3027.7 L1561.8 3027.7 L1565.2 3027.7 L1565.2 3027.7 L1568.7 3027.7 L1568.7 3027.7 L1572.1 3027.7 L1572.1 3024.2 L1575.5 3024.2 L1575.5 3020.8 L1579.0 3020.8 L1579.0 3017.4 L1582.4 3017.4 L1582.4 3007.0 L1585.9 3007.0 L1585.9 2996.7 L1589.3 2996.7 L1589.3 2979.5 L1592.7 2979.5 L1592.7 2958.9 L1596.2 2958.9 L1596.2 2938.2 L1599.6 2938.2 L1599.6 2917.6 L1603.1 2917.6 L1603.1 2900.4 L1606.5 2900.4 L1606.5 2883.2 L1609.9 2883.2 L1609.9 2872.9 L1613.4 2872.9 L1613.4 2866.0 L1616.8 2866.0 L1616.8 2862.6 L1620.3 2862.6 L1620.3 2862.6 L1623.7 2862.6 L1623.7 2869.4 L1627.1 2869.4 L1627.1 2890.1 L1630.6 2890.1 L1630.6 2910.7 L1634.0 2910.7 L1634.0 2931.4 L1637.5 2931.4 L1637.5 2948.6 L1640.9 2948.6 L1640.9 2965.8 L1644.3 2965.8 L1644.3 2983.0 L1647.8 2983.0 L1647.8 3000.2 L1651.2 3000.2 L1651.2 3010.5 L1654.7 3010.5 L1654.7 3013.9 L1658.1 3013.9 L1658.1 3020.8 L1661.5 3020.8 L1661.5 3027.7 L1665.0 3027.7 L1665.0 3027.7 L1668.4 3027.7 L1668.4 3031.1 L1671.9 3031.1 L1671.9 3027.7 L1675.3 3027.7 L1675.3 3031.1 L1678.7 3031.1 L1678.7 3031.1 L1682.2 3031.1 L1682.2 3027.7 L1685.6 3027.7 L1685.6 3027.7 L1689.1 3027.7 L1689.1 3031.1 L1692.5 3031.1 L1692.5 3031.1 L1695.9 3031.1 L1695.9 3031.1 L1699.4 3031.1 L1699.4 3031.1 L1702.8 3031.1 L1702.8 3027.7 L1706.3 3027.7 L1706.3 3031.1 L1709.7 3031.1 L1709.7 3031.1 L1713.1 3031.1 L1713.1 3027.7 L1716.6 3027.7 L1716.6 3031.1 L1720.0 3031.1 L1720.0 3031.1 L1723.5 3031.1 L1723.5 3031.1 L1726.9 3031.1 L1726.9 3031.1 L1730.3 3031.1 L1730.3 3034.6 L1733.8 3034.6 L1733.8 3034.6 L1737.2 3034.6 L1737.2 3034.6 L1740.7 3034.6 L1740.7 3027.7 L1744.1 3027.7 L1744.1 3031.1 L1747.5 3031.1 L1747.5 3031.1 L1751.0 3031.1 L1751.0 3031.1 L1754.4 3031.1 L1754.4 3031.1 L1757.9 3031.1 L1757.9 3031.1 L1761.3 3031.1 L1761.3 3027.7 L1764.7 3027.7 L1764.7 3031.1 L1768.2 3031.1 L1768.2 3031.1 L1771.6 3031.1 L1771.6 3031.1 L1775.1 3031.1 L1775.1 3031.1 L1778.5 3031.1 L1778.5 3034.6 L1781.9 3034.6 L1781.9 3034.6 L1785.4 3034.6 L1785.4 3031.1 L1788.8 3031.1 L1788.8 3031.1 L1792.3 3031.1 L1792.3 3031.1 L1795.7 3031.1 L1795.7 3031.1 L1799.1 3031.1 L1799.1 3034.6 L1802.6 3034.6 L1802.6 3034.6 L1806.0 3034.6 L1806.0 3031.1 L1809.5 3031.1 L1809.5 3031.1 L1812.9 3031.1 L1812.9 3031.1 L1816.3 3031.1 L1816.3 3034.6 L1819.8 3034.6 L1819.8 3034.6 L1823.2 3034.6 L1823.2 3031.1 L1826.7 3031.1 L1826.7 3031.1 L1830.1 3031.1 L1830.1 3031.1 L1833.5 3031.1 L1833.5 3034.6 L1837.0 3034.6 L1837.0 3031.1 L1840.4 3031.1 L1840.4 3031.1 L1843.9 3031.1 L1843.9 3031.1 L1847.3 3031.1 L1847.3 3031.1 L1850.7 3031.1 L1850.7 3031.1 L1854.2 3031.1 L1854.2 3034.6 L1857.6 3034.6 L1857.6 3034.6 L1861.1 3034.6 L1861.1 3034.6 L1864.5 3034.6 L1864.5 3031.1 L1866.6 3031.1 L1866.6 3033.5 L1866.6 3043.5 Z"/></defs>
<clipPath id="c2p"><use href="#c2d"/></clipPath>
<g clip-path="url(#c2x)" filter="url(#bl)">
<rect x="1483.5" y="1697.0" width="3.6" height="78.4" fill="#8a5a5c"/>
<g clip-path="url(#c2p)"><use href="#c2d" fill="#fd0303" stroke="#de090d" stroke-width="13.6" stroke-linejoin="round"/><use href="#c2d" fill="none" stroke="#8c0c10" stroke-width="7.2" stroke-linejoin="round"/></g>
<rect x="37.8" y="3038.9" width="42.2" height="6.4" fill="#050505"/>
<rect x="78.0" y="3038.9" width="1788.6" height="6.4" fill="#7a0606"/>
<rect x="194.5" y="3044.0" width="4.2" height="27.5" fill="#2e2e2e"/>
<rect x="353.7" y="3044.0" width="4.2" height="27.5" fill="#2e2e2e"/>
<rect x="512.9" y="3044.0" width="4.2" height="27.5" fill="#2e2e2e"/>
<rect x="672.1" y="3044.0" width="4.2" height="27.5" fill="#2e2e2e"/>
<rect x="831.3" y="3044.0" width="4.2" height="27.5" fill="#2e2e2e"/>
<rect x="990.5" y="3044.0" width="4.2" height="27.5" fill="#2e2e2e"/>
<rect x="1149.7" y="3044.0" width="4.2" height="27.5" fill="#2e2e2e"/>
<rect x="1308.9" y="3044.0" width="4.2" height="27.5" fill="#2e2e2e"/>
<rect x="1468.1" y="3044.0" width="4.2" height="27.5" fill="#2e2e2e"/>
<rect x="1627.3" y="3044.0" width="4.2" height="27.5" fill="#2e2e2e"/>
<rect x="1786.5" y="3044.0" width="4.2" height="27.5" fill="#2e2e2e"/>
</g>
<g clip-path="url(#c2x)" filter="url(#bt)" font-family="Liberation Sans, sans-serif" font-weight="bold" font-size="39.4" fill="#0c0c0c" stroke="#0c0c0c" stroke-width="0.5" text-anchor="middle">
<text transform="translate(198.8 3114.3) scale(1.050 1.100)">0.50</text>
<text transform="translate(358.0 3114.3) scale(1.050 1.100)">1.00</text>
<text transform="translate(517.2 3114.3) scale(1.050 1.100)">1.50</text>
<text transform="translate(676.4 3114.3) scale(1.050 1.100)">2.00</text>
<text transform="translate(835.6 3114.3) scale(1.050 1.100)">2.50</text>
<text transform="translate(994.8 3114.3) scale(1.050 1.100)">3.00</text>
<text transform="translate(1154.0 3114.3) scale(1.050 1.100)">3.50</text>
<text transform="translate(1313.2 3114.3) scale(1.050 1.100)">4.00</text>
<text transform="translate(1472.4 3114.3) scale(1.050 1.100)">4.50</text>
<text transform="translate(1631.6 3114.3) scale(1.050 1.100)">5.00</text>
<text transform="translate(1790.8 3114.3) scale(1.050 1.100)">5.50</text>
<text transform="translate(698.4 3167.0) scale(1.010 1.100)">Energy</text>
<text transform="translate(778.6 3167.0) scale(1.000 1.100)">-</text>
<text transform="translate(832.8 3167.0) scale(1.100 1.100)">keV</text>
<text transform="translate(1476.0 1675.5) scale(1.000 1.100)">Ti</text>
<text transform="translate(174.8 2902.5) scale(1.000 1.100)">Ti</text>
<text font-weight="normal" stroke-width="1.3" transform="translate(113.0 2995.2) scale(1.000 1.100)">C</text>
<text font-weight="normal" stroke-width="1.3" transform="translate(193.2 2968.8) scale(1.000 1.100)">O</text>
<text transform="translate(509.8 2949.0) scale(1.000 1.100)">Al</text>
<text transform="translate(590.0 2969.0) scale(1.000 1.100)">Si</text>
</g>
<clipPath id="c3x"><rect x="0" y="3291" width="1861.4" height="1700"/></clipPath>
<defs><path id="c3d" d="M75.7 4693.3 L75.7 4688.0 L75.7 4688.0 L76.0 4688.0 L76.0 4684.6 L79.5 4684.6 L79.5 4681.1 L82.9 4681.1 L82.9 4681.1 L86.4 4681.1 L86.4 4677.7 L89.8 4677.7 L89.8 4677.7 L93.2 4677.7 L93.2 4681.1 L96.7 4681.1 L96.7 4681.1 L100.1 4681.1 L100.1 4681.1 L103.6 4681.1 L103.6 4660.5 L107.0 4660.5 L107.0 4636.4 L110.4 4636.4 L110.4 4615.8 L113.9 4615.8 L113.9 4605.4 L117.3 4605.4 L117.3 4595.1 L120.8 4595.1 L120.8 4581.4 L124.2 4581.4 L124.2 4581.4 L127.6 4581.4 L127.6 4591.7 L131.1 4591.7 L131.1 4615.8 L134.5 4615.8 L134.5 4639.8 L138.0 4639.8 L138.0 4646.7 L141.4 4646.7 L141.4 4657.0 L144.8 4657.0 L144.8 4663.9 L148.3 4663.9 L148.3 4670.8 L151.7 4670.8 L151.7 4681.1 L155.2 4681.1 L155.2 4684.6 L158.6 4684.6 L158.6 4684.6 L162.0 4684.6 L162.0 4684.6 L165.5 4684.6 L165.5 4684.6 L168.9 4684.6 L168.9 4684.6 L172.4 4684.6 L172.4 4684.6 L175.8 4684.6 L175.8 4684.6 L179.2 4684.6 L179.2 4684.6 L182.7 4684.6 L182.7 4681.1 L186.1 4681.1 L186.1 4681.1 L189.6 4681.1 L189.6 4681.1 L193.0 4681.1 L193.0 4684.6 L196.4 4684.6 L196.4 4684.6 L199.9 4684.6 L199.9 4684.6 L203.3 4684.6 L203.3 4684.6 L206.8 4684.6 L206.8 4681.1 L210.2 4681.1 L210.2 4681.1 L213.6 4681.1 L213.6 4681.1 L217.1 4681.1 L217.1 4681.1 L220.5 4681.1 L220.5 4677.7 L224.0 4677.7 L224.0 4677.7 L227.4 4677.7 L227.4 4677.7 L230.8 4677.7 L230.8 4677.7 L234.3 4677.7 L234.3 4677.7 L237.7 4677.7 L237.7 4677.7 L241.2 4677.7 L241.2 4674.2 L244.6 4674.2 L244.6 4674.2 L248.0 4674.2 L248.0 4674.2 L251.5 4674.2 L251.5 4674.2 L254.9 4674.2 L254.9 4670.8 L258.4 4670.8 L258.4 4670.8 L261.8 4670.8 L261.8 4670.8 L265.2 4670.8 L265.2 4670.8 L268.7 4670.8 L268.7 4670.8 L272.1 4670.8 L272.1 4667.4 L275.6 4667.4 L275.6 4667.4 L279.0 4667.4 L279.0 4667.4 L282.4 4667.4 L282.4 4667.4 L285.9 4667.4 L285.9 4663.9 L289.3 4663.9 L289.3 4667.4 L292.8 4667.4 L292.8 4667.4 L296.2 4667.4 L296.2 4663.9 L299.6 4663.9 L299.6 4663.9 L303.1 4663.9 L303.1 4660.5 L306.5 4660.5 L306.5 4663.9 L310.0 4663.9 L310.0 4660.5 L313.4 4660.5 L313.4 4657.0 L316.8 4657.0 L316.8 4657.0 L320.3 4657.0 L320.3 4650.2 L323.7 4650.2 L323.7 4633.0 L327.2 4633.0 L327.2 4584.8 L330.6 4584.8 L330.6 4533.2 L334.0 4533.2 L334.0 4467.8 L337.5 4467.8 L337.5 4426.6 L340.9 4426.6 L340.9 4426.6 L344.4 4426.6 L344.4 4457.5 L347.8 4457.5 L347.8 4522.9 L351.2 4522.9 L351.2 4574.5 L354.7 4574.5 L354.7 4622.6 L358.1 4622.6 L358.1 4643.3 L361.6 4643.3 L361.6 4653.6 L365.0 4653.6 L365.0 4657.0 L368.4 4657.0 L368.4 4657.0 L371.9 4657.0 L371.9 4653.6 L375.3 4653.6 L375.3 4660.5 L378.8 4660.5 L378.8 4657.0 L382.2 4657.0 L382.2 4660.5 L385.6 4660.5 L385.6 4657.0 L389.1 4657.0 L389.1 4653.6 L392.5 4653.6 L392.5 4657.0 L396.0 4657.0 L396.0 4653.6 L399.4 4653.6 L399.4 4657.0 L402.8 4657.0 L402.8 4653.6 L406.3 4653.6 L406.3 4657.0 L409.7 4657.0 L409.7 4657.0 L413.2 4657.0 L413.2 4653.6 L416.6 4653.6 L416.6 4653.6 L420.0 4653.6 L420.0 4660.5 L423.5 4660.5 L423.5 4657.0 L426.9 4657.0 L426.9 4657.0 L430.4 4657.0 L430.4 4660.5 L433.8 4660.5 L433.8 4657.0 L437.2 4657.0 L437.2 4660.5 L440.7 4660.5 L440.7 4660.5 L444.1 4660.5 L444.1 4660.5 L447.6 4660.5 L447.6 4657.0 L451.0 4657.0 L451.0 4657.0 L454.4 4657.0 L454.4 4660.5 L457.9 4660.5 L457.9 4660.5 L461.3 4660.5 L461.3 4660.5 L464.8 4660.5 L464.8 4657.0 L468.2 4657.0 L468.2 4660.5 L471.6 4660.5 L471.6 4660.5 L475.1 4660.5 L475.1 4663.9 L478.5 4663.9 L478.5 4657.0 L482.0 4657.0 L482.0 4660.5 L485.4 4660.5 L485.4 4663.9 L488.8 4663.9 L488.8 4663.9 L492.3 4663.9 L492.3 4663.9 L495.7 4663.9 L495.7 4660.5 L499.2 4660.5 L499.2 4660.5 L502.6 4660.5 L502.6 4663.9 L506.0 4663.9 L506.0 4663.9 L509.5 4663.9 L509.5 4660.5 L512.9 4660.5 L512.9 4663.9 L516.4 4663.9 L516.4 4663.9 L519.8 4663.9 L519.8 4663.9 L523.2 4663.9 L523.2 4660.5 L526.7 4660.5 L526.7 4663.9 L530.1 4663.9 L530.1 4663.9 L533.6 4663.9 L533.6 4663.9 L537.0 4663.9 L537.0 4663.9 L540.4 4663.9 L540.4 4660.5 L543.9 4660.5 L543.9 4660.5 L547.3 4660.5 L547.3 4667.4 L550.8 4667.4 L550.8 4667.4 L554.2 4667.4 L554.2 4663.9 L557.6 4663.9 L557.6 4667.4 L561.1 4667.4 L561.1 4667.4 L564.5 4667.4 L564.5 4660.5 L568.0 4660.5 L568.0 4663.9 L571.4 4663.9 L571.4 4660.5 L574.8 4660.5 L574.8 4663.9 L578.3 4663.9 L578.3 4660.5 L581.7 4660.5 L581.7 4663.9 L585.2 4663.9 L585.2 4663.9 L588.6 4663.9 L588.6 4663.9 L592.0 4663.9 L592.0 4660.5 L595.5 4660.5 L595.5 4657.0 L598.9 4657.0 L598.9 4657.0 L602.4 4657.0 L602.4 4653.6 L605.8 4653.6 L605.8 4657.0 L609.2 4657.0 L609.2 4657.0 L612.7 4657.0 L612.7 4660.5 L616.1 4660.5 L616.1 4660.5 L619.6 4660.5 L619.6 4660.5 L623.0 4660.5 L623.0 4660.5 L626.4 4660.5 L626.4 4663.9 L629.9 4663.9 L629.9 4663.9 L633.3 4663.9 L633.3 4663.9 L636.8 4663.9 L636.8 4663.9 L640.2 4663.9 L640.2 4667.4 L643.6 4667.4 L643.6 4667.4 L647.1 4667.4 L647.1 4667.4 L650.5 4667.4 L650.5 4663.9 L654.0 4663.9 L654.0 4667.4 L657.4 4667.4 L657.4 4667.4 L660.8 4667.4 L660.8 4663.9 L664.3 4663.9 L664.3 4663.9 L667.7 4663.9 L667.7 4667.4 L671.2 4667.4 L671.2 4667.4 L674.6 4667.4 L674.6 4663.9 L678.0 4663.9 L678.0 4663.9 L681.5 4663.9 L681.5 4667.4 L684.9 4667.4 L684.9 4670.8 L688.4 4670.8 L688.4 4663.9 L691.8 4663.9 L691.8 4667.4 L695.2 4667.4 L695.2 4667.4 L698.7 4667.4 L698.7 4667.4 L702.1 4667.4 L702.1 4667.4 L705.6 4667.4 L705.6 4670.8 L709.0 4670.8 L709.0 4667.4 L712.4 4667.4 L712.4 4670.8 L715.9 4670.8 L715.9 4670.8 L719.3 4670.8 L719.3 4667.4 L722.8 4667.4 L722.8 4667.4 L726.2 4667.4 L726.2 4670.8 L729.6 4670.8 L729.6 4670.8 L733.1 4670.8 L733.1 4670.8 L736.5 4670.8 L736.5 4670.8 L740.0 4670.8 L740.0 4670.8 L743.4 4670.8 L743.4 4670.8 L746.8 4670.8 L746.8 4670.8 L750.3 4670.8 L750.3 4670.8 L753.7 4670.8 L753.7 4670.8 L757.2 4670.8 L757.2 4674.2 L760.6 4674.2 L760.6 4670.8 L764.0 4670.8 L764.0 4670.8 L767.5 4670.8 L767.5 4674.2 L770.9 4674.2 L770.9 4670.8 L774.4 4670.8 L774.4 4674.2 L777.8 4674.2 L777.8 4670.8 L781.2 4670.8 L781.2 4670.8 L784.7 4670.8 L784.7 4670.8 L788.1 4670.8 L788.1 4674.2 L791.6 4674.2 L791.6 4674.2 L795.0 4674.2 L795.0 4670.8 L798.4 4670.8 L798.4 4674.2 L801.9 4674.2 L801.9 4670.8 L805.3 4670.8 L805.3 4674.2 L808.8 4674.2 L808.8 4674.2 L812.2 4674.2 L812.2 4674.2 L815.6 4674.2 L815.6 4670.8 L819.1 4670.8 L819.1 4674.2 L822.5 4674.2 L822.5 4674.2 L826.0 4674.2 L826.0 4670.8 L829.4 4670.8 L829.4 4670.8 L832.8 4670.8 L832.8 4674.2 L836.3 4674.2 L836.3 4674.2 L839.7 4674.2 L839.7 4674.2 L843.2 4674.2 L843.2 4674.2 L846.6 4674.2 L846.6 4674.2 L850.0 4674.2 L850.0 4674.2 L853.5 4674.2 L853.5 4674.2 L856.9 4674.2 L856.9 4674.2 L860.4 4674.2 L860.4 4674.2 L863.8 4674.2 L863.8 4674.2 L867.2 4674.2 L867.2 4674.2 L870.7 4674.2 L870.7 4674.2 L874.1 4674.2 L874.1 4674.2 L877.6 4674.2 L877.6 4670.8 L881.0 4670.8 L881.0 4674.2 L884.4 4674.2 L884.4 4674.2 L887.9 4674.2 L887.9 4674.2 L891.3 4674.2 L891.3 4674.2 L894.8 4674.2 L894.8 4667.4 L898.2 4667.4 L898.2 4670.8 L901.6 4670.8 L901.6 4667.4 L905.1 4667.4 L905.1 4663.9 L908.5 4663.9 L908.5 4663.9 L912.0 4663.9 L912.0 4663.9 L915.4 4663.9 L915.4 4663.9 L918.8 4663.9 L918.8 4660.5 L922.3 4660.5 L922.3 4660.5 L925.7 4660.5 L925.7 4650.2 L929.2 4650.2 L929.2 4636.4 L932.6 4636.4 L932.6 4631.0 L936.5 4631.0 L936.5 4558.5 L939.6 4558.5 L939.6 4446.5 L942.6 4446.5 L942.6 4340.5 L946.2 4340.5 L946.2 4086.0 L950.0 4086.0 L950.0 3961.0 L951.7 3961.0 L951.7 3610.0 L954.7 3610.0 L954.7 3501.0 L968.0 3501.0 L968.0 3649.0 L971.0 3649.0 L971.0 3995.0 L973.5 3995.0 L973.5 4122.6 L977.0 4122.6 L977.0 4383.0 L979.5 4383.0 L979.5 4470.7 L982.6 4470.7 L982.6 4585.8 L986.2 4585.8 L986.2 4634.0 L989.2 4634.0 L989.2 4636.4 L989.6 4636.4 L989.6 4646.7 L993.1 4646.7 L993.1 4667.4 L996.5 4667.4 L996.5 4670.8 L1000.0 4670.8 L1000.0 4670.8 L1003.4 4670.8 L1003.4 4674.2 L1006.8 4674.2 L1006.8 4670.8 L1010.3 4670.8 L1010.3 4674.2 L1013.7 4674.2 L1013.7 4670.8 L1017.2 4670.8 L1017.2 4667.4 L1020.6 4667.4 L1020.6 4660.5 L1024.0 4660.5 L1024.0 4646.7 L1027.5 4646.7 L1027.5 4622.6 L1030.9 4622.6 L1030.9 4591.7 L1034.4 4591.7 L1034.4 4557.3 L1037.8 4557.3 L1037.8 4516.0 L1041.2 4516.0 L1041.2 4485.0 L1044.7 4485.0 L1044.7 4471.3 L1048.1 4471.3 L1048.1 4471.3 L1051.6 4471.3 L1051.6 4485.0 L1055.0 4485.0 L1055.0 4512.6 L1058.4 4512.6 L1058.4 4550.4 L1061.9 4550.4 L1061.9 4595.1 L1065.3 4595.1 L1065.3 4622.6 L1068.8 4622.6 L1068.8 4646.7 L1072.2 4646.7 L1072.2 4667.4 L1075.6 4667.4 L1075.6 4674.2 L1079.1 4674.2 L1079.1 4677.7 L1082.5 4677.7 L1082.5 4677.7 L1086.0 4677.7 L1086.0 4681.1 L1089.4 4681.1 L1089.4 4681.1 L1092.8 4681.1 L1092.8 4681.1 L1096.3 4681.1 L1096.3 4684.6 L1099.7 4684.6 L1099.7 4681.1 L1103.2 4681.1 L1103.2 4681.1 L1106.6 4681.1 L1106.6 4684.6 L1110.0 4684.6 L1110.0 4681.1 L1113.5 4681.1 L1113.5 4681.1 L1116.9 4681.1 L1116.9 4681.1 L1120.4 4681.1 L1120.4 4681.1 L1123.8 4681.1 L1123.8 4681.1 L1127.2 4681.1 L1127.2 4681.1 L1130.7 4681.1 L1130.7 4681.1 L1134.1 4681.1 L1134.1 4681.1 L1137.6 4681.1 L1137.6 4677.7 L1141.0 4677.7 L1141.0 4681.1 L1144.4 4681.1 L1144.4 4677.7 L1147.9 4677.7 L1147.9 4677.7 L1151.3 4677.7 L1151.3 4677.7 L1154.8 4677.7 L1154.8 4681.1 L1158.2 4681.1 L1158.2 4681.1 L1161.6 4681.1 L1161.6 4681.1 L1165.1 4681.1 L1165.1 4681.1 L1168.5 4681.1 L1168.5 4681.1 L1172.0 4681.1 L1172.0 4681.1 L1175.4 4681.1 L1175.4 4684.6 L1178.8 4684.6 L1178.8 4681.1 L1182.3 4681.1 L1182.3 4684.6 L1185.7 4684.6 L1185.7 4681.1 L1189.2 4681.1 L1189.2 4681.1 L1192.6 4681.1 L1192.6 4684.6 L1196.0 4684.6 L1196.0 4681.1 L1199.5 4681.1 L1199.5 4681.1 L1202.9 4681.1 L1202.9 4681.1 L1206.4 4681.1 L1206.4 4681.1 L1209.8 4681.1 L1209.8 4684.6 L1213.2 4684.6 L1213.2 4681.1 L1216.7 4681.1 L1216.7 4681.1 L1220.1 4681.1 L1220.1 4681.1 L1223.6 4681.1 L1223.6 4681.1 L1227.0 4681.1 L1227.0 4681.1 L1230.4 4681.1 L1230.4 4681.1 L1233.9 4681.1 L1233.9 4681.1 L1237.3 4681.1 L1237.3 4681.1 L1240.8 4681.1 L1240.8 4681.1 L1244.2 4681.1 L1244.2 4681.1 L1247.6 4681.1 L1247.6 4684.6 L1251.1 4684.6 L1251.1 4681.1 L1254.5 4681.1 L1254.5 4684.6 L1258.0 4684.6 L1258.0 4681.1 L1261.4 4681.1 L1261.4 4684.6 L1264.8 4684.6 L1264.8 4681.1 L1268.3 4681.1 L1268.3 4681.1 L1271.7 4681.1 L1271.7 4681.1 L1275.2 4681.1 L1275.2 4681.1 L1278.6 4681.1 L1278.6 4684.6 L1282.0 4684.6 L1282.0 4684.6 L1285.5 4684.6 L1285.5 4684.6 L1288.9 4684.6 L1288.9 4684.6 L1292.4 4684.6 L1292.4 4684.6 L1295.8 4684.6 L1295.8 4684.6 L1299.2 4684.6 L1299.2 4684.6 L1302.7 4684.6 L1302.7 4681.1 L1306.1 4681.1 L1306.1 4684.6 L1309.6 4684.6 L1309.6 4684.6 L1313.0 4684.6 L1313.0 4684.6 L1316.4 4684.6 L1316.4 4684.6 L1319.9 4684.6 L1319.9 4684.6 L1323.3 4684.6 L1323.3 4684.6 L1326.8 4684.6 L1326.8 4684.6 L1330.2 4684.6 L1330.2 4684.6 L1333.6 4684.6 L1333.6 4684.6 L1337.1 4684.6 L1337.1 4684.6 L1340.5 4684.6 L1340.5 4684.6 L1344.0 4684.6 L1344.0 4684.6 L1347.4 4684.6 L1347.4 4684.6 L1350.8 4684.6 L1350.8 4684.6 L1354.3 4684.6 L1354.3 4684.6 L1357.7 4684.6 L1357.7 4684.6 L1361.2 4684.6 L1361.2 4684.6 L1364.6 4684.6 L1364.6 4684.6 L1368.0 4684.6 L1368.0 4684.6 L1371.5 4684.6 L1371.5 4684.6 L1374.9 4684.6 L1374.9 4684.6 L1378.4 4684.6 L1378.4 4684.6 L1381.8 4684.6 L1381.8 4684.6 L1385.2 4684.6 L1385.2 4684.6 L1388.7 4684.6 L1388.7 4684.6 L1392.1 4684.6 L1392.1 4684.6 L1395.6 4684.6 L1395.6 4684.6 L1399.0 4684.6 L1399.0 4684.6 L1402.4 4684.6 L1402.4 4684.6 L1405.9 4684.6 L1405.9 4684.6 L1409.3 4684.6 L1409.3 4684.6 L1412.8 4684.6 L1412.8 4684.6 L1416.2 4684.6 L1416.2 4684.6 L1419.6 4684.6 L1419.6 4684.6 L1423.1 4684.6 L1423.1 4684.6 L1426.5 4684.6 L1426.5 4684.6 L1430.0 4684.6 L1430.0 4684.6 L1433.4 4684.6 L1433.4 4684.6 L1436.8 4684.6 L1436.8 4684.6 L1440.3 4684.6 L1440.3 4684.6 L1443.7 4684.6 L1443.7 4684.6 L1447.2 4684.6 L1447.2 4684.6 L1450.6 4684.6 L1450.6 4684.6 L1454.0 4684.6 L1454.0 4684.6 L1457.5 4684.6 L1457.5 4684.6 L1460.9 4684.6 L1460.9 4684.6 L1464.4 4684.6 L1464.4 4684.6 L1467.8 4684.6 L1467.8 4684.6 L1471.2 4684.6 L1471.2 4684.6 L1474.7 4684.6 L1474.7 4684.6 L1478.1 4684.6 L1478.1 4684.6 L1481.6 4684.6 L1481.6 4684.6 L1485.0 4684.6 L1485.0 4684.6 L1488.4 4684.6 L1488.4 4684.6 L1491.9 4684.6 L1491.9 4684.6 L1495.3 4684.6 L1495.3 4684.6 L1498.8 4684.6 L1498.8 4684.6 L1502.2 4684.6 L1502.2 4684.6 L1505.6 4684.6 L1505.6 4684.6 L1509.1 4684.6 L1509.1 4684.6 L1512.5 4684.6 L1512.5 4684.6 L1516.0 4684.6 L1516.0 4684.6 L1519.4 4684.6 L1519.4 4684.6 L1522.8 4684.6 L1522.8 4684.6 L1526.3 4684.6 L1526.3 4684.6 L1529.7 4684.6 L1529.7 4684.6 L1533.2 4684.6 L1533.2 4684.6 L1536.6 4684.6 L1536.6 4684.6 L1540.0 4684.6 L1540.0 4684.6 L1543.5 4684.6 L1543.5 4684.6 L1546.9 4684.6 L1546.9 4684.6 L1550.4 4684.6 L1550.4 4684.6 L1553.8 4684.6 L1553.8 4684.6 L1557.2 4684.6 L1557.2 4684.6 L1560.7 4684.6 L1560.7 4684.6 L1564.1 4684.6 L1564.1 4684.6 L1567.6 4684.6 L1567.6 4684.6 L1571.0 4684.6 L1571.0 4684.6 L1574.4 4684.6 L1574.4 4684.6 L1577.9 4684.6 L1577.9 4684.6 L1581.3 4684.6 L1581.3 4684.6 L1584.8 4684.6 L1584.8 4684.6 L1588.2 4684.6 L1588.2 4684.6 L1591.6 4684.6 L1591.6 4684.6 L1595.1 4684.6 L1595.1 4684.6 L1598.5 4684.6 L1598.5 4684.6 L1602.0 4684.6 L1602.0 4684.6 L1605.4 4684.6 L1605.4 4684.6 L1608.8 4684.6 L1608.8 4684.6 L1612.3 4684.6 L1612.3 4684.6 L1615.7 4684.6 L1615.7 4684.6 L1619.2 4684.6 L1619.2 4684.6 L1622.6 4684.6 L1622.6 4684.6 L1626.0 4684.6 L1626.0 4684.6 L1629.5 4684.6 L1629.5 4684.6 L1632.9 4684.6 L1632.9 4684.6 L1636.4 4684.6 L1636.4 4684.6 L1639.8 4684.6 L1639.8 4684.6 L1643.2 4684.6 L1643.2 4684.6 L1646.7 4684.6 L1646.7 4684.6 L1650.1 4684.6 L1650.1 4684.6 L1653.6 4684.6 L1653.6 4684.6 L1657.0 4684.6 L1657.0 4684.6 L1660.4 4684.6 L1660.4 4684.6 L1663.9 4684.6 L1663.9 4684.6 L1667.3 4684.6 L1667.3 4684.6 L1670.8 4684.6 L1670.8 4684.6 L1674.2 4684.6 L1674.2 4684.6 L1677.6 4684.6 L1677.6 4684.6 L1681.1 4684.6 L1681.1 4684.6 L1684.5 4684.6 L1684.5 4684.6 L1688.0 4684.6 L1688.0 4684.6 L1691.4 4684.6 L1691.4 4684.6 L1694.8 4684.6 L1694.8 4684.6 L1698.3 4684.6 L1698.3 4684.6 L1701.7 4684.6 L1701.7 4684.6 L1705.2 4684.6 L1705.2 4684.6 L1708.6 4684.6 L1708.6 4684.6 L1712.0 4684.6 L1712.0 4684.6 L1715.5 4684.6 L1715.5 4684.6 L1718.9 4684.6 L1718.9 4684.6 L1722.4 4684.6 L1722.4 4684.6 L1725.8 4684.6 L1725.8 4684.6 L1729.2 4684.6 L1729.2 4684.6 L1732.7 4684.6 L1732.7 4684.6 L1736.1 4684.6 L1736.1 4684.6 L1739.6 4684.6 L1739.6 4684.6 L1743.0 4684.6 L1743.0 4684.6 L1746.4 4684.6 L1746.4 4684.6 L1749.9 4684.6 L1749.9 4684.6 L1753.3 4684.6 L1753.3 4684.6 L1756.8 4684.6 L1756.8 4684.6 L1760.2 4684.6 L1760.2 4684.6 L1763.6 4684.6 L1763.6 4684.6 L1767.1 4684.6 L1767.1 4684.6 L1770.5 4684.6 L1770.5 4684.6 L1774.0 4684.6 L1774.0 4684.6 L1777.4 4684.6 L1777.4 4684.6 L1780.8 4684.6 L1780.8 4684.6 L1784.3 4684.6 L1784.3 4684.6 L1787.7 4684.6 L1787.7 4684.6 L1791.2 4684.6 L1791.2 4684.6 L1794.6 4684.6 L1794.6 4684.6 L1798.0 4684.6 L1798.0 4684.6 L1801.5 4684.6 L1801.5 4684.6 L1804.9 4684.6 L1804.9 4684.6 L1808.4 4684.6 L1808.4 4684.6 L1811.8 4684.6 L1811.8 4684.6 L1815.2 4684.6 L1815.2 4684.6 L1818.7 4684.6 L1818.7 4684.6 L1822.1 4684.6 L1822.1 4684.6 L1825.6 4684.6 L1825.6 4684.6 L1829.0 4684.6 L1829.0 4684.6 L1832.4 4684.6 L1832.4 4684.6 L1835.9 4684.6 L1835.9 4684.6 L1839.3 4684.6 L1839.3 4684.6 L1842.8 4684.6 L1842.8 4684.6 L1846.2 4684.6 L1846.2 4684.6 L1849.6 4684.6 L1849.6 4684.6 L1853.1 4684.6 L1853.1 4684.6 L1856.5 4684.6 L1856.5 4684.6 L1860.0 4684.6 L1860.0 4684.6 L1861.4 4684.6 L1861.4 4685.5 L1861.4 4693.3 Z"/></defs>
<clipPath id="c3p"><use href="#c3d"/></clipPath>
<g clip-path="url(#c3x)" filter="url(#bl)">
<rect x="959.0" y="3358.7" width="6.0" height="146.3" fill="#8a5a5c"/>
<g clip-path="url(#c3p)"><use href="#c3d" fill="#fd0303" stroke="#de090d" stroke-width="13.6" stroke-linejoin="round"/><use href="#c3d" fill="none" stroke="#8c0c10" stroke-width="7.2" stroke-linejoin="round"/></g>
<rect x="40.4" y="4688.7" width="37.3" height="6.4" fill="#050505"/>
<rect x="75.7" y="4688.7" width="1785.7" height="6.4" fill="#7a0606"/>
<rect x="169.2" y="4693.8" width="4.2" height="27.5" fill="#2e2e2e"/>
<rect x="324.1" y="4693.8" width="4.2" height="27.5" fill="#2e2e2e"/>
<rect x="478.9" y="4693.8" width="4.2" height="27.5" fill="#2e2e2e"/>
<rect x="633.8" y="4693.8" width="4.2" height="27.5" fill="#2e2e2e"/>
<rect x="788.6" y="4693.8" width="4.2" height="27.5" fill="#2e2e2e"/>
<rect x="943.5" y="4693.8" width="4.2" height="27.5" fill="#2e2e2e"/>
<rect x="1098.3" y="4693.8" width="4.2" height="27.5" fill="#2e2e2e"/>
<rect x="1253.2" y="4693.8" width="4.2" height="27.5" fill="#2e2e2e"/>
<rect x="1408.0" y="4693.8" width="4.2" height="27.5" fill="#2e2e2e"/>
<rect x="1562.8" y="4693.8" width="4.2" height="27.5" fill="#2e2e2e"/>
<rect x="1717.7" y="4693.8" width="4.2" height="27.5" fill="#2e2e2e"/>
</g>
<g clip-path="url(#c3x)" filter="url(#bt)" font-family="Liberation Sans, sans-serif" font-weight="bold" font-size="39.4" fill="#0c0c0c" stroke="#0c0c0c" stroke-width="0.5" text-anchor="middle">
<text transform="translate(173.7 4764.0) scale(0.980 1.100)">0.65</text>
<text transform="translate(328.6 4764.0) scale(0.980 1.100)">1.40</text>
<text transform="translate(483.4 4764.0) scale(0.980 1.100)">2.15</text>
<text transform="translate(638.3 4764.0) scale(0.980 1.100)">2.90</text>
<text transform="translate(793.1 4764.0) scale(0.980 1.100)">3.65</text>
<text transform="translate(948.0 4764.0) scale(0.980 1.100)">4.40</text>
<text transform="translate(1102.8 4764.0) scale(0.980 1.100)">5.15</text>
<text transform="translate(1257.7 4764.0) scale(0.980 1.100)">5.90</text>
<text transform="translate(1412.5 4764.0) scale(0.980 1.100)">6.65</text>
<text transform="translate(1567.4 4764.0) scale(0.980 1.100)">7.40</text>
<text transform="translate(1722.2 4764.0) scale(0.980 1.100)">8.15</text>
<text transform="translate(1877.1 4764.0) scale(0.980 1.100)">8.90</text>
<text transform="translate(643.0 4816.4) scale(0.925 1.100)">Energy</text>
<text transform="translate(717.4 4816.4) scale(0.920 1.100)">-</text>
<text transform="translate(767.0 4816.4) scale(1.000 1.100)">keV</text>
<text transform="translate(954.6 3335.5) scale(0.920 1.100)">Ti</text>
<text transform="translate(336.8 4402.4) scale(0.920 1.100)">Al</text>
<text transform="translate(123.6 4556.3) scale(0.920 1.100)">Ti</text>
<text font-weight="normal" stroke-width="1.3" transform="translate(83.2 4651.3) scale(0.920 1.100)">C</text>
</g>
<rect x="174.2" y="2929" width="2.6" height="22" fill="#3a2020" filter="url(#bl)"/>
<text x="890" y="1619.0" text-anchor="middle" font-family="Liberation Serif, serif" font-size="86.5" letter-spacing="-1.5" fill="#000">(<tspan font-weight="bold">a</tspan>)</text>
<text x="890" y="3268.0" text-anchor="middle" font-family="Liberation Serif, serif" font-size="86.5" letter-spacing="-1.5" fill="#000">(<tspan font-weight="bold">b</tspan>)</text>
<text x="890" y="4919.6" text-anchor="middle" font-family="Liberation Serif, serif" font-size="86.5" letter-spacing="-1.5" fill="#000">(<tspan font-weight="bold">c</tspan>)</text>
</svg>
</body></html>
